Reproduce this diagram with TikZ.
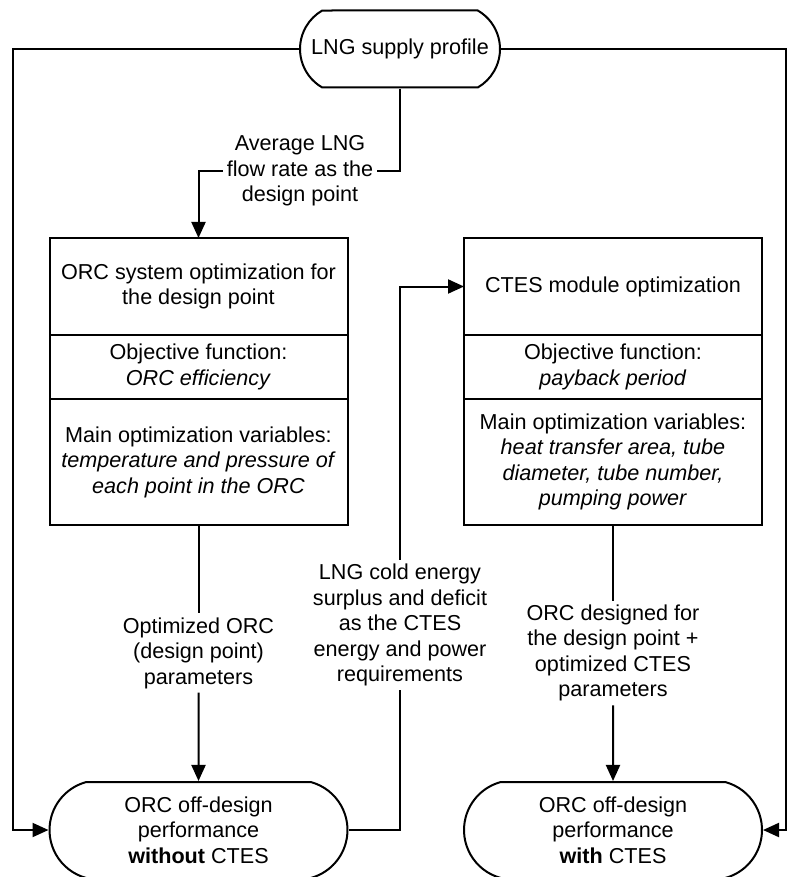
\documentclass[tikz,border=0pt]{standalone}
\usepackage{fontspec}
\setmainfont{Liberation Sans}
\usetikzlibrary{shapes.misc,arrows.meta,positioning}

\begin{document}
\begin{tikzpicture}[x=0.5pt,y=-0.5pt,line width=1pt,
    every node/.style={align=center,font=\fontsize{10.8}{12.75}\selectfont},
    term/.style={draw,rounded rectangle,rounded rectangle arc length=#1,inner sep=0},
    term/.default=120,
    cell/.style={draw,minimum width=\boxw,inner sep=0,outer sep=0},
    lab/.style={inner sep=1.5pt},
    arr/.style={-{Triangle[length=8pt,width=7pt]}}]
    \def\boxw{149pt}
    \useasboundingbox (0,0) rectangle (787,877);
        \node[term,minimum width=100pt,minimum height=38.5pt] (lng) at (400,49) {LNG supply profile};
        \node[lab] (avg) at (300,171) {Average LNG\\flow rate as the\\design point};
        % ORC design point box
        \node[cell,minimum height=48.5pt] (orct) at (198.5,286.5) {ORC system optimization for\\the design point};
        \node[cell,minimum height=32pt,below=0pt of orct] (orco) {Objective function:\\\textit{ORC efficiency}};
        \node[cell,minimum height=63pt,below=0pt of orco] (orcv) {Main optimization variables:\\\textit{temperature and pressure of}\\\textit{each point in the ORC}};
        % CTES box
        \node[cell,minimum height=48.5pt] (ctest) at (613,286.5) {CTES module optimization};
        \node[cell,minimum height=32pt,below=0pt of ctest] (cteso) {Objective function:\\\textit{payback period}};
        \node[cell,minimum height=63pt,below=0pt of cteso] (ctesv) {Main optimization variables:\\\textit{heat transfer area, tube}\\\textit{diameter, tube number,}\\\textit{pumping power}};
        \node[lab] (opt) at (198.5,653) {Optimized ORC\\(design point)\\parameters};
        \node[lab] (cold) at (400,625) {LNG cold energy\\surplus and deficit\\as the CTES\\energy and power\\requirements};
        \node[lab] (des) at (613,653) {ORC designed for\\the design point +\\optimized CTES\\parameters};
        \node[term=150,minimum width=\boxw,minimum height=48pt] (offno) at (198.5,830) {ORC off-design\\performance\\\textbf{without} CTES};
        \node[term=150,minimum width=\boxw,minimum height=48pt] (offyes) at (613,830) {ORC off-design\\performance\\\textbf{with} CTES};
        \coordinate (lcorner) at (13,49);
        \coordinate (rcorner) at (786,49);

    \draw[arr] (lng.west) -- (lcorner) |- (offno);
    \draw[arr] (lng.east) -- (rcorner) |- (offyes);
    \draw (lng) |- (avg);
    \draw[arr] (avg) -| (orct);
    \draw (orcv) -- (opt);
    \draw[arr] (opt) -- (offno);
    \draw (ctesv) -- (des);
    \draw[arr] (des) -- (offyes);
    \draw (offno) -| (cold);
    \draw[arr] (cold) |- (ctest);
\end{tikzpicture}
\end{document}
